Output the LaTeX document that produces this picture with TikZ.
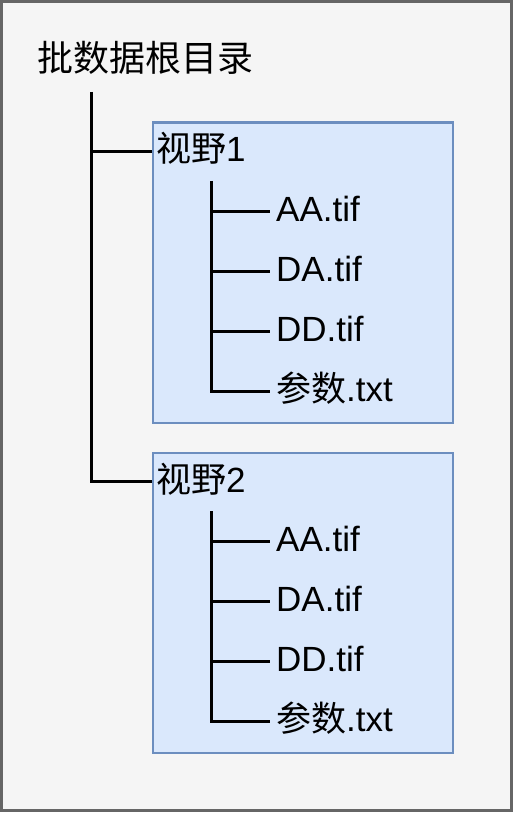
\documentclass[tikz,border=0pt]{standalone}
\usepackage{fontspec}
\setmainfont{Liberation Sans}
\newfontfamily\cjk{Noto Sans CJK SC}
\usetikzlibrary{positioning}

\definecolor{framegray}{HTML}{666666}
\definecolor{pagegray}{HTML}{F5F5F5}
\definecolor{boxblue}{HTML}{6C8EBF}
\definecolor{boxfill}{HTML}{DAE8FC}

\tikzset{
  folder/.style={draw=boxblue,fill=boxfill,line width=2.5pt,inner sep=0pt,
    minimum width=300pt,minimum height=300pt,anchor=north west},
  item/.style={anchor=west,inner sep=0pt,text height=21pt,text depth=0pt,
    font=\fontsize{35}{35}\selectfont},
  branch/.style={line width=3pt}
}

\begin{document}
\begin{tikzpicture}[x=1pt,y=-1pt]
  \useasboundingbox (0,0) rectangle (516,813);
  \draw[line width=3pt,draw=framegray,fill=pagegray] (1.5,1.5) rectangle (511.5,810.5);

  \node[anchor=base west,inner sep=0pt,font=\cjk\fontsize{36}{36}\selectfont] (root) at (37,72) {批数据根目录};
  \coordinate (t0) at (91.5,92);

  \foreach \b/\dy in {1/0,2/330} {
    \node[folder] (box\b) at (151.5,121.5+\dy) {};
    \node[item] (v\b) at (156,151.5+\dy) {{\cjk 视野}\b};
    \coordinate (c\b) at (211.5,181+\dy);
    \node[item] (aa\b) at (276,211+\dy) {AA.tif};
    \node[item] (da\b) at (276,271+\dy) {DA.tif};
    \node[item] (dd\b) at (276,331+\dy) {DD.tif};
    \node[item] (par\b) at (276,391+\dy) {{\cjk 参数}.txt};
    \draw[branch] (c\b) |- (par\b.west) [shorten >=6pt];
    \draw[branch,shorten >=6pt] (c\b |- aa\b.west) -- (aa\b.west);
    \draw[branch,shorten >=6pt] (c\b |- da\b.west) -- (da\b.west);
    \draw[branch,shorten >=6pt] (c\b |- dd\b.west) -- (dd\b.west);
  }

  \draw[branch] (t0) |- (box2.west |- v2.west);
  \draw[branch] (t0 |- v1.west) -- (box1.west |- v1.west);
\end{tikzpicture}
\end{document}
